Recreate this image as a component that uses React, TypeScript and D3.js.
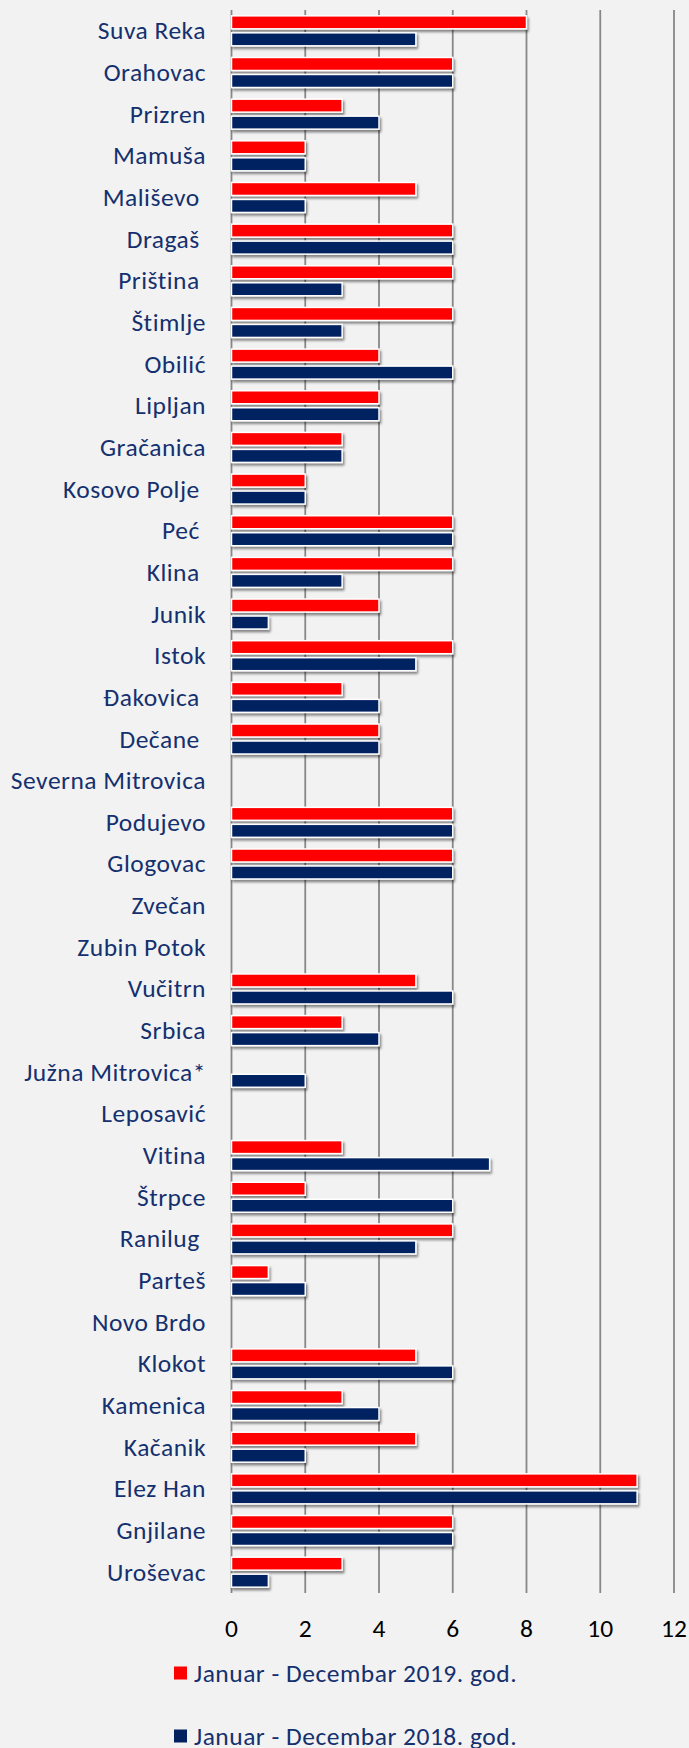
import React, { useEffect, useRef } from 'react';
import * as d3 from 'd3';

// municipalities, top to bottom (trailing spaces kept as in the source)
const categories = [
  'Suva Reka', 'Orahovac', 'Prizren', 'Mamuša', 'Mališevo ', 'Dragaš ', 'Priština ',
  'Štimlje', 'Obilić', 'Lipljan', 'Gračanica', 'Kosovo Polje ', 'Peć ', 'Klina ',
  'Junik', 'Istok', 'Đakovica ', 'Dečane ', 'Severna Mitrovica', 'Podujevo', 'Glogovac',
  'Zvečan', 'Zubin Potok', 'Vučitrn', 'Srbica', 'Južna Mitrovica*', 'Leposavić', 'Vitina',
  'Štrpce', 'Ranilug ', 'Parteš', 'Novo Brdo', 'Klokot', 'Kamenica', 'Kačanik',
  'Elez Han', 'Gnjilane', 'Uroševac',
];

const values2019 = [8, 6, 3, 2, 5, 6, 6, 6, 4, 4, 3, 2, 6, 6, 4, 6, 3, 4, 0, 6, 6, 0, 0, 5, 3, 0, 0, 3, 2, 6, 1, 0, 5, 3, 5, 11, 6, 3];
const values2018 = [5, 6, 4, 2, 2, 6, 3, 3, 6, 4, 3, 2, 6, 3, 1, 5, 4, 4, 0, 6, 6, 0, 0, 6, 4, 2, 0, 7, 6, 5, 2, 0, 6, 4, 2, 11, 6, 1];

const xTicks = [0, 2, 4, 6, 8, 10, 12];

const seriesNames = ['Januar - Decembar 2019. god.', 'Januar - Decembar 2018. god.'];
const seriesColors = ['#ff0000', '#002060'];

const W = 689;
const H = 1748;
const FONT = "Carlito, Lato, 'Liberation Sans', sans-serif";
const LABEL_COLOR = '#14306e';

export default function App() {
  const svgRef = useRef<SVGSVGElement>(null);

  useEffect(() => {
    const svg = d3.select(svgRef.current);
    svg.selectAll('*').remove();

    const left = 231.5;
    const right = 674;
    const top = 10;
    const bottom = 1593;

    svg.append('rect').attr('width', W).attr('height', H).attr('fill', '#f2f2f2');

    const defs = svg.append('defs');
    const f = defs.append('filter').attr('id', 'shadow')
      .attr('x', '-10%').attr('y', '-50%').attr('width', '130%').attr('height', '250%');
    f.append('feDropShadow')
      .attr('dx', 1.5).attr('dy', 2.5).attr('stdDeviation', 1.3)
      .attr('flood-color', '#000').attr('flood-opacity', 0.45);

    const x = d3.scaleLinear().domain([0, 12]).range([left, right]);
    const y = d3.scaleBand().domain(categories).range([top, bottom]).paddingInner(0).paddingOuter(0);
    const sub = d3.scaleBand().domain(['2019', '2018']).range([0, y.bandwidth()])
      .paddingInner(0.235).paddingOuter(0.343);

    // gridlines
    svg.append('g').selectAll('line').data(xTicks).enter().append('line')
      .attr('x1', d => x(d)).attr('x2', d => x(d))
      .attr('y1', top).attr('y2', bottom)
      .attr('stroke', '#878787').attr('stroke-width', 1.8);

    // tick labels
    svg.append('g').selectAll('text').data(xTicks).enter().append('text')
      .attr('x', d => x(d)).attr('y', 1637)
      .attr('text-anchor', 'middle')
      .attr('font-family', FONT).attr('font-size', 25.5).attr('fill', '#000')
      .text(d => d);

    // category labels
    svg.append('g').selectAll('text').data(categories).enter().append('text')
      .attr('x', 206).attr('y', d => (y(d) as number) + y.bandwidth() / 2 + 8.5)
      .attr('text-anchor', 'end')
      .attr('font-family', FONT).attr('font-size', 25.5).attr('fill', LABEL_COLOR)
      .attr('letter-spacing', 0.5)
      .style('white-space', 'pre')
      .text(d => d);

    const series = [
      { key: '2019', values: values2019, color: seriesColors[0] },
      { key: '2018', values: values2018, color: seriesColors[1] },
    ];

    series.forEach(s => {
      const rows = categories.map((c, i) => ({ c, v: s.values[i] })).filter(r => r.v > 0);
      svg.append('g').selectAll('rect').data(rows).enter().append('rect')
        .attr('x', x(0))
        .attr('y', r => (y(r.c) as number) + (sub(s.key) as number))
        .attr('width', r => x(r.v) - x(0))
        .attr('height', sub.bandwidth())
        .attr('fill', s.color)
        .attr('stroke', '#ffffff').attr('stroke-width', 1.5)
        .attr('filter', 'url(#shadow)');
    });

    // legend
    const legendY = [1673, 1736];
    seriesNames.forEach((name, i) => {
      svg.append('rect')
        .attr('x', 174).attr('y', legendY[i] - 6.5).attr('width', 13).attr('height', 13)
        .attr('fill', seriesColors[i]);
      svg.append('text')
        .attr('x', 194).attr('y', legendY[i] + 8.5)
        .attr('font-family', FONT).attr('font-size', 25.5).attr('fill', LABEL_COLOR)
        .attr('letter-spacing', 0.5)
        .text(name);
    });
  }, []);

  return (
    <div style={{ position: 'absolute', left: 0, top: 0, width: W, height: H, overflow: 'hidden' }}>
      <svg ref={svgRef} width={W} height={H} style={{ display: 'block' }} />
    </div>
  );
}
